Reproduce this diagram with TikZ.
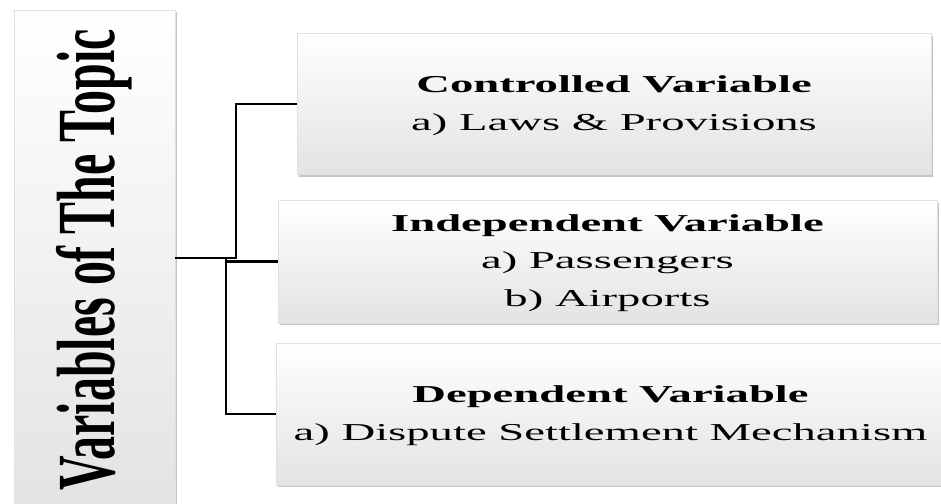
\documentclass[tikz,border=0pt]{standalone}
\usepackage{fontspec}
\setmainfont{Liberation Serif}
\usepackage{graphicx}
\usetikzlibrary{shadows}
\newcommand{\squash}[1]{\scalebox{1}[0.52]{\begin{tabular}{@{}c@{}}#1\end{tabular}}}
\tikzset{
varbox/.style 2 args={
	draw=black!12, thin,
	top color=white, middle color=white, bottom color=black!11,
	drop shadow={shadow xshift=1.5pt, shadow yshift=-1.8pt, opacity=0.45},
	minimum width=#1, minimum height=#2, inner sep=0pt,
	font=\fontsize{35}{54}\selectfont
},
topicbox/.style={
	varbox={120.75pt}{375pt},
	font=\fontsize{62}{70}\selectfont\bfseries
},
branch/.style={line width=1.6pt, black},
}
\begin{document}
\begin{tikzpicture}[x=0.75pt, y=-0.75pt]
	\useasboundingbox (0,0) rectangle (941,503);
	\clip (0,0) rectangle (941,503);
	\fill[white] (0,0) rectangle (941,503);
	
	%
	\node[topicbox] (topic) at (94.5,260) {\rotatebox{90}{\scalebox{0.58}[1]{Variables of The Topic}}};
	
	%
	\node[varbox={475.5pt}{105.75pt}] (ctrl) at (614,104) {\squash{\textbf{Controlled Variable}\\a) Laws \& Provisions}};
	\node[varbox={494pt}{92pt}] (indep) at (607.5,261.5) {\squash{\textbf{Independent Variable}\\a) Passengers\\b) Airports}};
	\node[varbox={502pt}{106.5pt}] (dep) at (610.5,414) {\squash{\textbf{Dependent Variable}\\a) Dispute Settlement Mechanism}};
	
	%
	\coordinate (fork) at (236,258);
	\coordinate (split) at (226,258);
	\draw[branch] (topic.east |- fork) -- (fork) |- (ctrl.west);
	\draw[branch] (split) |- (indep.west);
	\draw[branch] (split) |- (dep.west);
\end{tikzpicture}
\end{document}
